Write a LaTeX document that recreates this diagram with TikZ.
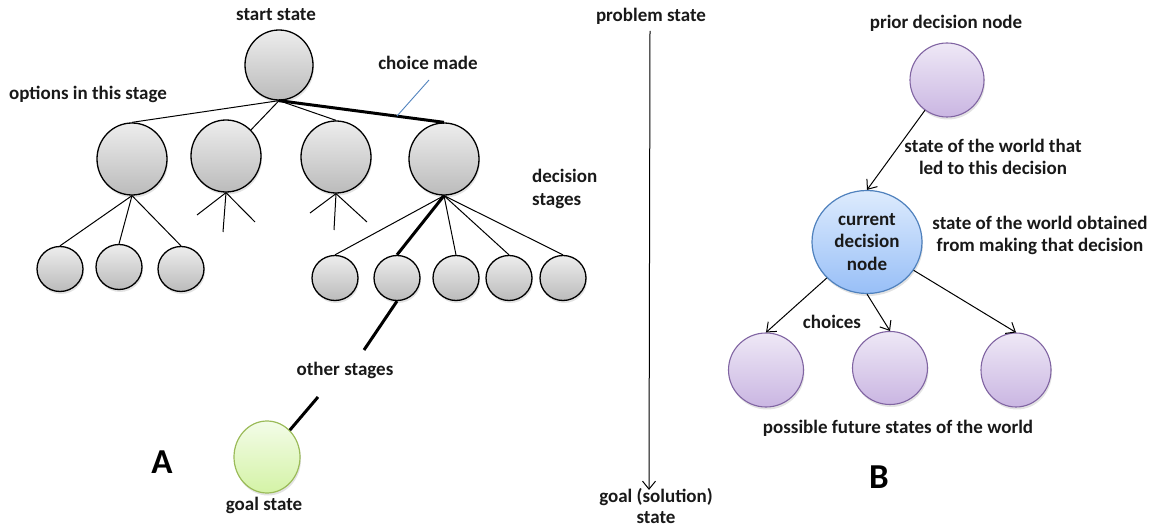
\documentclass[tikz,border=0pt]{standalone}
\usepackage{fontspec}
\setmainfont{Carlito}
\usetikzlibrary{shapes.geometric,arrows.meta,shadows}
\definecolor{gtop}{HTML}{EDEDED}
\definecolor{gbot}{HTML}{BBBBBB}
\definecolor{ptop}{HTML}{EEE8F6}
\definecolor{pbot}{HTML}{CAB6E2}
\definecolor{pdraw}{HTML}{8064A2}
\definecolor{btop}{HTML}{DDEBFD}
\definecolor{bbot}{HTML}{98BFF7}
\definecolor{bdraw}{HTML}{4F81BD}
\definecolor{vtop}{HTML}{F3FCE8}
\definecolor{vbot}{HTML}{D4F3A6}
\definecolor{vdraw}{HTML}{9BBB59}
\begin{document}
\begin{tikzpicture}[x=1pt,y=-1pt,
  lbl/.style={font=\fontsize{19}{22.5}\selectfont\bfseries, inner sep=0pt, align=center, text=black!90},
  big/.style={font=\fontsize{35}{40}\selectfont\bfseries, inner sep=0pt},
  shade/.style={drop shadow={opacity=0.22,shadow xshift=1pt,shadow yshift=-2.5pt}},
  gnode/.style={ellipse, draw=black, line width=1.3pt, top color=gtop, bottom color=gbot, inner sep=0pt, shade},
  pnode/.style={ellipse, draw=pdraw, line width=1.1pt, top color=ptop, bottom color=pbot, inner sep=0pt, shade},
  bnode/.style={ellipse, draw=bdraw, line width=1.2pt, top color=btop, bottom color=bbot, inner sep=0pt, shade},
  vnode/.style={ellipse, draw=vdraw, line width=1.2pt, top color=vtop, bottom color=vbot, inner sep=0pt, shade},
  big1/.style={minimum width=70pt, minimum height=72pt},
  small/.style={minimum width=46pt, minimum height=45pt},
  link/.style={line width=1pt},
  chosen/.style={line width=3pt},
  arr/.style={line width=1pt, -{Straight Barb[length=8pt,width=13pt]}},
]
\useasboundingbox (0,0) rectangle (1152,529);

% ---------- Part A ----------
\node[lbl] (tstart) at (276,15) {start state};
\node[gnode, minimum width=68pt, minimum height=70pt] (start) at (279,65) {};
\node[lbl] (tchoice) at (428,63) {choice made};
\node[lbl] (toptions) at (88,94) {options in this stage};

\node[gnode, big1] (c1) at (132,159) {};
\node[gnode, big1] (c2) at (226,156) {};
\node[gnode, big1] (c3) at (336,157) {};
\node[gnode, big1] (c4) at (444,159) {};

\node[gnode, small] (s1) at (60,269) {};
\node[gnode, small] (s2) at (119,267) {};
\node[gnode, small] (s3) at (181,269) {};

\node[gnode, small] (t1) at (335,278) {};
\node[gnode, small] (t2) at (397,278) {};
\node[gnode, small] (t3) at (456,278) {};
\node[gnode, small] (t4) at (509,278) {};
\node[gnode, small] (t5) at (563,278) {};

\node[lbl, anchor=west, align=left] (tdec) at (532,189) {decision\\stages};
\node[lbl] (tother) at (345,370) {other stages};
\node[vnode, minimum width=66pt, minimum height=72pt] (goal) at (267,457) {};
\node[lbl] (tgoal) at (264,505) {goal state};
\node[big] (labA) at (162,462) {A};

\coordinate (cmA) at (429,80);
\coordinate (cmB) at (397,116);
\coordinate (c2a) at (197,215);
\coordinate (c2b) at (223,232);
\coordinate (c2c) at (255,222);
\coordinate (c3a) at (310,213);
\coordinate (c3b) at (334,230);
\coordinate (c3c) at (367,222);
\coordinate (os1) at (364,350);
\coordinate (os2) at (318,397);

\draw[link] (start.south) -- (c1.north);
\draw[link] (start.south) -- (c2);
\draw[link] (start.south) -- (c3.north);
\draw[chosen] (start.south) -- (c4.north);
\draw[bdraw, line width=0.9pt] (cmA) -- (cmB);

\draw[link] (c1.south) -- (s1.north);
\draw[link] (c1.south) -- (s2.north);
\draw[link] (c1.south) -- (s3.north);

\draw[link] (c2.south) -- (c2a);
\draw[link] (c2.south) -- (c2b);
\draw[link] (c2.south) -- (c2c);
\draw[link] (c3.south) -- (c3a);
\draw[link] (c3.south) -- (c3b);
\draw[link] (c3.south) -- (c3c);

\draw[link] (c4.south) -- (t1.north);
\draw[chosen] (c4.south) -- (t2.north);
\draw[link] (c4.south) -- (t3.north);
\draw[link] (c4.south) -- (t4.north);
\draw[link] (c4.south) -- (t5.north);

\draw[chosen] (t2.south) -- (os1);
\draw[chosen] (os2) -- (goal);

% ---------- middle ----------
\node[lbl] (tprob) at (651,16) {problem state};
\node[lbl, font=\fontsize{19}{21.5}\selectfont\bfseries] (tsol) at (656,506) {goal (solution)\\state};
\draw[arr] ([xshift=-1pt,yshift=-15pt]tprob.center) -- ([xshift=-7pt,yshift=-2pt]tsol.north);

% ---------- Part B ----------
\node[lbl] (tprior) at (946,23) {prior decision node};
\node[pnode, minimum width=74pt, minimum height=74pt] (prior) at (947,80) {};
\node[lbl] (tled) at (993,157) {state of the world that\\led to this decision};
\node[bnode, minimum width=110pt, minimum height=103pt, lbl, align=center] (cur) at (867,242) {current\\decision\\node};
\node[lbl] (tobt) at (1040,235.5) {state of the world obtained\\from making that decision};
\node[pnode, minimum width=75pt, minimum height=74pt] (f1) at (766,370) {};
\node[pnode, minimum width=75pt, minimum height=73pt] (f2) at (890,368) {};
\node[pnode, minimum width=70pt, minimum height=74pt] (f3) at (1016,370) {};
\node[lbl] (tchoices) at (832,322) {choices};
\node[lbl] (tfuture) at (898,428) {possible future states of the world};
\node[big] (labB) at (879,477) {B};

\draw[arr] (prior) -- (cur.north);
\draw[arr] (cur) -- (f1.north);
\draw[arr] (cur.south) -- (f2.north);
\draw[arr] (cur) -- (f3.north);
\end{tikzpicture}
\end{document}
